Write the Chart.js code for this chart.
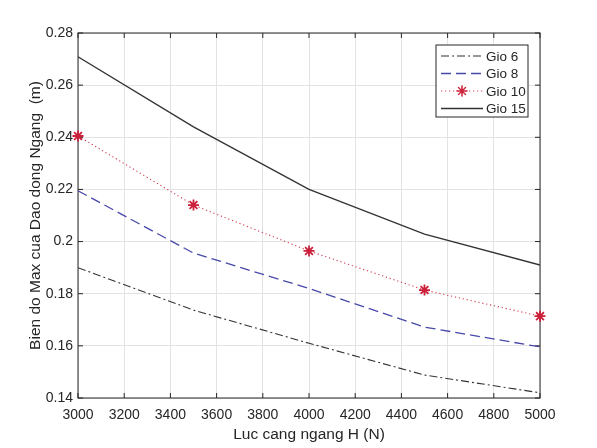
<!DOCTYPE html>
<html>
<head>
<meta charset="utf-8">
<script src="https://cdn.jsdelivr.net/npm/chart.js@4"></script>
<style>
  html, body { margin: 0; padding: 0; background: #fff; }
  #wrap { width: 597px; height: 448px; }
</style>
</head>
<body>
<div id="wrap"><canvas id="plot"></canvas></div>
<script>
// Luc cang ngang H (N)
const forces = [3000, 3500, 4000, 4500, 5000];

// Bien do max (m) for each hour
const gio6 = [0.190, 0.1737, 0.161, 0.1488, 0.142];
const gio8 = [0.2195, 0.1956, 0.182, 0.1672, 0.1596];
const gio10 = [0.2405, 0.214, 0.1964, 0.1814, 0.1714];
const gio15 = [0.2709, 0.244, 0.220, 0.2029, 0.191];

const xTicks = [3000, 3200, 3400, 3600, 3800, 4000, 4200, 4400, 4600, 4800, 5000];
const yTicks = [0.14, 0.16, 0.18, 0.2, 0.22, 0.24, 0.26, 0.28];

const FONT = '"Liberation Sans", Arial, sans-serif';
const TXT = '#262626';

const toPoints = (ys) => forces.map((x, i) => ({ x: x, y: ys[i] }));

// box around the axes and inward tick marks, matlab style
const axesBox = {
    id: 'axesBox',
    beforeDatasetsDraw(chart) {
        const { ctx, chartArea: a, scales } = chart;
        ctx.save();
        ctx.strokeStyle = '#262626';
        ctx.lineWidth = 1;
        ctx.setLineDash([]);
        ctx.strokeRect(a.left, a.top, a.right - a.left, a.bottom - a.top);
        ctx.beginPath();
        xTicks.forEach(v => {
            const px = scales.x.getPixelForValue(v);
            ctx.moveTo(px, a.bottom); ctx.lineTo(px, a.bottom - 5);
            ctx.moveTo(px, a.top); ctx.lineTo(px, a.top + 5);
        });
        yTicks.forEach(v => {
            const py = scales.y.getPixelForValue(v);
            ctx.moveTo(a.left, py); ctx.lineTo(a.left + 5, py);
            ctx.moveTo(a.right, py); ctx.lineTo(a.right - 5, py);
        });
        ctx.stroke();
        ctx.restore();
    }
};

// legend box in the top right corner
const boxLegend = {
    id: 'boxLegend',
    afterDraw(chart) {
        const { ctx, chartArea: a } = chart;
        const w = 92, h = 72;
        const x0 = a.right - 12 - w, y0 = a.top + 12;
        ctx.save();
        ctx.fillStyle = '#fff';
        ctx.fillRect(x0, y0, w, h);
        ctx.strokeStyle = '#262626';
        ctx.lineWidth = 1;
        ctx.strokeRect(x0, y0, w, h);
        ctx.font = '13.5px ' + FONT;
        ctx.textBaseline = 'middle';
        chart.data.datasets.forEach((ds, i) => {
            const y = y0 + 11 + i * 17.5;
            ctx.strokeStyle = ds.borderColor;
            ctx.lineWidth = ds.borderWidth;
            ctx.setLineDash(ds.borderDash || []);
            ctx.beginPath();
            ctx.moveTo(x0 + 5, y);
            ctx.lineTo(x0 + 47, y);
            ctx.stroke();
            ctx.setLineDash([]);
            if (ds.pointRadius > 0) {
                Chart.helpers.drawPoint(ctx, {
                    pointStyle: ds.pointStyle,
                    radius: ds.pointRadius,
                    borderWidth: ds.pointBorderWidth
                }, x0 + 26, y);
                ctx.strokeStyle = ds.pointBorderColor;
                ctx.stroke();
            }
            ctx.fillStyle = TXT;
            ctx.fillText(ds.label, x0 + 50, y + 1);
        });
        ctx.restore();
    }
};

new Chart(document.getElementById('plot'), {
    type: 'line',
    data: {
        datasets: [
            {
                label: 'Gio 6',
                data: toPoints(gio6),
                borderColor: '#333333',
                borderWidth: 1.1,
                borderDash: [8, 3, 2, 3],
                pointRadius: 0,
                tension: 0
            },
            {
                label: 'Gio 8',
                data: toPoints(gio8),
                borderColor: '#4848aa',
                borderWidth: 1.3,
                borderDash: [10, 5],
                pointRadius: 0,
                tension: 0
            },
            {
                label: 'Gio 10',
                data: toPoints(gio10),
                borderColor: '#d23a4e',
                borderWidth: 1.1,
                borderDash: [1.2, 2.8],
                pointStyle: 'star',
                pointRadius: 5.5,
                pointBorderWidth: 1.8,
                pointBorderColor: '#cc1f3a',
                clip: false,
                tension: 0
            },
            {
                label: 'Gio 15',
                data: toPoints(gio15),
                borderColor: '#333333',
                borderWidth: 1.3,
                pointRadius: 0,
                tension: 0
            }
        ]
    },
    options: {
        responsive: true,
        maintainAspectRatio: false,
        animation: false,
        layout: { padding: { left: 22, right: 57, top: 33, bottom: 0 } },
        plugins: {
            legend: { display: false },
            tooltip: { enabled: false }
        },
        scales: {
            x: {
                type: 'linear',
                min: 3000,
                max: 5000,
                afterBuildTicks: (s) => { s.ticks = xTicks.map(v => ({ value: v })); },
                afterFit: (s) => { s.height = 50; },
                grid: { color: '#e3e3e3', drawTicks: false },
                border: { display: false },
                ticks: {
                    color: TXT,
                    padding: 9,
                    maxRotation: 0,
                    font: { family: FONT, size: 14 },
                    callback: (v) => String(v)
                },
                title: {
                    display: true,
                    text: 'Luc cang ngang H (N)',
                    color: TXT,
                    padding: { top: 2 },
                    font: { family: FONT, size: 15.5 }
                }
            },
            y: {
                min: 0.14,
                max: 0.28,
                afterBuildTicks: (s) => { s.ticks = yTicks.map(v => ({ value: v })); },
                afterFit: (s) => { s.width = 56; },
                grid: { color: '#e3e3e3', drawTicks: false },
                border: { display: false },
                ticks: {
                    color: TXT,
                    padding: 5,
                    font: { family: FONT, size: 14 },
                    callback: (v) => String(Number(v.toFixed(2)))
                },
                title: {
                    display: true,
                    text: 'Bien do Max cua Dao dong Ngang  (m)',
                    color: TXT,
                    padding: { bottom: 2 },
                    font: { family: FONT, size: 15.5 }
                }
            }
        }
    },
    plugins: [axesBox, boxLegend]
});
</script>
</body>
</html>
